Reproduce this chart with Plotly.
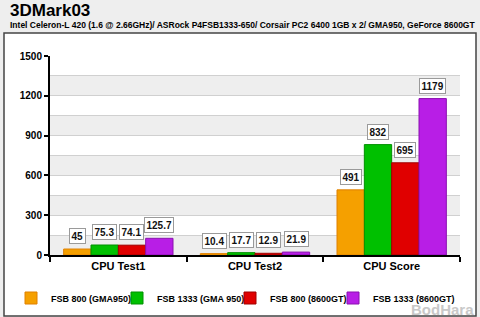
import plotly.graph_objects as go

categories = ["CPU Test1", "CPU Test2", "CPU Score"]
series_names = ["FSB 800 (GMA950)", "FSB 1333 (GMA 950)", "FSB 800 (8600GT)", "FSB 1333 (8600GT)"]
fsb800_gma = [45, 10.4, 491]
fsb1333_gma = [75.3, 17.7, 832]
fsb800_8600 = [74.1, 12.9, 695]
fsb1333_8600 = [125.7, 21.9, 1179]
label_text = [["45", "10.4", "491"], ["75.3", "17.7", "832"], ["74.1", "12.9", "695"], ["125.7", "21.9", "1179"]]
y_ticks = [0, 300, 600, 900, 1200, 1500]

series_values = [fsb800_gma, fsb1333_gma, fsb800_8600, fsb1333_8600]
colors = ["#f5a000", "#00c000", "#e00000", "#b81ee6"]
edge_colors = ["#e08000", "#009000", "#a00000", "#8a10b0"]
legend_ids = ["legend", "legend2", "legend3", "legend4"]
legend_x_px = [11, 117, 230, 333]

FONT = "Liberation Sans, Arial, sans-serif"

fig = go.Figure()
for name, vals, c, ec, lid in zip(series_names, series_values, colors, edge_colors, legend_ids):
    fig.add_trace(go.Bar(x=categories, y=vals, name=name, legend=lid,
                         marker=dict(color=c, line=dict(color=ec, width=1))))

L, R, T, B = 50, 20, 56, 62
W, H = 480, 317
pw = W - L - R
ph = H - T - B
bargap = 0.2
cat_w = pw / len(categories)
bar_w = cat_w * (1 - bargap) / 4

def px_to_paper_x(px):
    return (px - L) / pw
def px_to_paper_y(py):
    return (H - B - py) / ph

shapes = []
shapes.append(dict(type="rect", xref="paper", yref="paper", layer="below",
                   x0=px_to_paper_x(4), x1=px_to_paper_x(476),
                   y0=px_to_paper_y(316), y1=px_to_paper_y(33),
                   fillcolor="white", line=dict(color="#444444", width=1.5)))
for lo in range(0, 1500, 300):
    shapes.append(dict(type="rect", xref="paper", yref="y", layer="below",
                       x0=0, x1=1, y0=lo, y1=lo + 150,
                       fillcolor="#eeeeee", line=dict(width=0)))

annotations = []
for i, vals in enumerate(series_values):
    off = (i - 1.5) * bar_w
    for j, v in enumerate(vals):
        annotations.append(dict(x=categories[j], y=v, xref="x", yref="y", text=label_text[i][j],
                                showarrow=False, yanchor="bottom", xshift=off, yshift=5,
                                font=dict(family=FONT, size=10, color="#111111", weight="bold"),
                                bgcolor="white", bordercolor="#9a9a9a", borderwidth=1, borderpad=1.5))

annotations.append(dict(x=px_to_paper_x(8), y=px_to_paper_y(10.5), xref="paper", yref="paper",
                        text="3DMark03", showarrow=False, xanchor="left", yanchor="middle",
                        font=dict(family=FONT, size=17, color="black", weight="bold")))
annotations.append(dict(x=px_to_paper_x(8), y=px_to_paper_y(25), xref="paper", yref="paper",
                        text="Intel Celeron-L 420 (1.6 @ 2.66GHz)/ ASRock P4FSB1333-650/ Corsair PC2 6400 1GB x 2/ GMA950, GeForce 8600GT",
                        showarrow=False, xanchor="left", yanchor="middle",
                        font=dict(family=FONT, size=8.5, color="black", weight="bold")))
annotations.append(dict(x=px_to_paper_x(476), y=px_to_paper_y(309), xref="paper", yref="paper",
                        text="BodHara", showarrow=False, xanchor="right", yanchor="middle",
                        font=dict(family=FONT, size=15, color="#c8c8c8", weight="bold")))

legend_layout = {}
for lid, lx in zip(legend_ids, legend_x_px):
    legend_layout[lid] = dict(orientation="h", x=lx / W, xanchor="left", xref="container",
                              y=(H - 298) / H, yanchor="middle", yref="container",
                              font=dict(family=FONT, size=9, color="black", weight="bold"),
                              bgcolor="rgba(0,0,0,0)", itemwidth=30)

fig.update_layout(
    width=W, height=H,
    margin=dict(l=L, r=R, t=T, b=B, pad=0, autoexpand=False),
    paper_bgcolor="#eeeeee", plot_bgcolor="white",
    barmode="group", bargap=bargap, bargroupgap=0,
    showlegend=True,
    shapes=shapes, annotations=annotations,
    font=dict(family=FONT),
    **legend_layout,
)
fig.update_xaxes(showline=True, linecolor="black", linewidth=2, ticks="outside", tickson="boundaries",
                 ticklen=5, tickwidth=2, tickcolor="black", showgrid=False, automargin=False, tickangle=0,
                 tickfont=dict(family=FONT, size=11, color="black", weight="bold"))
fig.update_yaxes(range=[0, 1500], tickvals=y_ticks, showline=True, linecolor="black", linewidth=2,
                 ticks="outside", ticklen=4, tickwidth=2, tickcolor="black", automargin=False,
                 showgrid=True, gridcolor="#d0d0d0", gridwidth=1,
                 minor=dict(dtick=150, tick0=0, showgrid=True, gridcolor="#d0d0d0", gridwidth=1),
                 zeroline=False,
                 tickfont=dict(family=FONT, size=10, color="black", weight="bold"))

fig.write_html("out.html")
